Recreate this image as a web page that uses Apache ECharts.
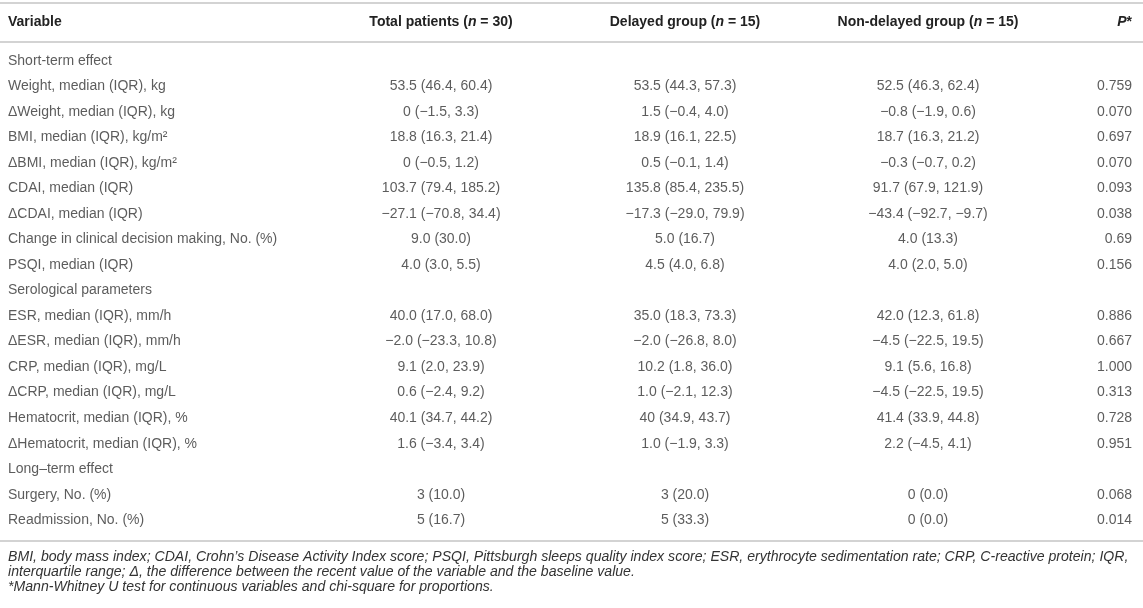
<!DOCTYPE html>
<html lang="en">
<head>
    <meta charset="UTF-8">
    <title>Short- and long-term effect table</title>
    <script src="https://cdn.jsdelivr.net/npm/echarts@6/dist/echarts.min.js"></script>
    <style>
        html, body { margin: 0; padding: 0; background: #fff; }
        #table-chart { width: 1143px; height: 608px; }
    </style>
</head>
<body>
    <div id="table-chart"></div>

    <script>
        // Row labels (first column)
        var variables = [
            'Short-term effect',
            'Weight, median (IQR), kg',
            'ΔWeight, median (IQR), kg',
            'BMI, median (IQR), kg/m²',
            'ΔBMI, median (IQR), kg/m²',
            'CDAI, median (IQR)',
            'ΔCDAI, median (IQR)',
            'Change in clinical decision making, No. (%)',
            'PSQI, median (IQR)',
            'Serological parameters',
            'ESR, median (IQR), mm/h',
            'ΔESR, median (IQR), mm/h',
            'CRP, median (IQR), mg/L',
            'ΔCRP, median (IQR), mg/L',
            'Hematocrit, median (IQR), %',
            'ΔHematocrit, median (IQR), %',
            'Long–term effect',
            'Surgery, No. (%)',
            'Readmission, No. (%)'
        ];

        var totalPatients = [
            '', '53.5 (46.4, 60.4)', '0 (−1.5, 3.3)', '18.8 (16.3, 21.4)', '0 (−0.5, 1.2)',
            '103.7 (79.4, 185.2)', '−27.1 (−70.8, 34.4)', '9.0 (30.0)', '4.0 (3.0, 5.5)',
            '', '40.0 (17.0, 68.0)', '−2.0 (−23.3, 10.8)', '9.1 (2.0, 23.9)', '0.6 (−2.4, 9.2)',
            '40.1 (34.7, 44.2)', '1.6 (−3.4, 3.4)', '', '3 (10.0)', '5 (16.7)'
        ];

        var delayedGroup = [
            '', '53.5 (44.3, 57.3)', '1.5 (−0.4, 4.0)', '18.9 (16.1, 22.5)', '0.5 (−0.1, 1.4)',
            '135.8 (85.4, 235.5)', '−17.3 (−29.0, 79.9)', '5.0 (16.7)', '4.5 (4.0, 6.8)',
            '', '35.0 (18.3, 73.3)', '−2.0 (−26.8, 8.0)', '10.2 (1.8, 36.0)', '1.0 (−2.1, 12.3)',
            '40 (34.9, 43.7)', '1.0 (−1.9, 3.3)', '', '3 (20.0)', '5 (33.3)'
        ];

        var nonDelayedGroup = [
            '', '52.5 (46.3, 62.4)', '−0.8 (−1.9, 0.6)', '18.7 (16.3, 21.2)', '−0.3 (−0.7, 0.2)',
            '91.7 (67.9, 121.9)', '−43.4 (−92.7, −9.7)', '4.0 (13.3)', '4.0 (2.0, 5.0)',
            '', '42.0 (12.3, 61.8)', '−4.5 (−22.5, 19.5)', '9.1 (5.6, 16.8)', '−4.5 (−22.5, 19.5)',
            '41.4 (33.9, 44.8)', '2.2 (−4.5, 4.1)', '', '0 (0.0)', '0 (0.0)'
        ];

        var pValues = [
            '', '0.759', '0.070', '0.697', '0.070', '0.093', '0.038', '0.69', '0.156',
            '', '0.886', '0.667', '1.000', '0.313', '0.728', '0.951', '', '0.068', '0.014'
        ];

        // Header cells ({i|...} = italic)
        var headers = [
            'Variable',
            'Total patients ({i|n} = 30)',
            'Delayed group ({i|n} = 15)',
            'Non-delayed group ({i|n} = 15)',
            '{i|P}*'
        ];

        var footnotes = [
            'BMI, body mass index; CDAI, Crohn\u2019s Disease Activity Index score; PSQI, Pittsburgh sleeps quality index score; ESR, erythrocyte sedimentation rate; CRP, C-reactive protein; IQR,',
            'interquartile range; Δ, the difference between the recent value of the variable and the baseline value.',
            '*Mann-Whitney U test for continuous variables and chi-square for proportions.'
        ];

        // Layout of the columns (x anchor in pixels on the hidden value axis)
        var columns = [
            { values: variables,       x: 8,    align: 'left' },
            { values: totalPatients,   x: 441,  align: 'center' },
            { values: delayedGroup,    x: 685,  align: 'center' },
            { values: nonDelayedGroup, x: 928,  align: 'center' },
            { values: pValues,         x: 1132, align: 'right' }
        ];

        var FONT = '"Liberation Sans", Arial, Helvetica, sans-serif';
        var W = 1143;

        var chart = echarts.init(document.getElementById('table-chart'), null, { renderer: 'canvas' });

        var series = columns.map(function (col) {
            return {
                type: 'scatter',
                symbolSize: 1,
                itemStyle: { color: 'rgba(0,0,0,0)' },
                silent: true,
                data: col.values.map(function (v, i) { return [col.x, i, v]; }),
                label: {
                    show: true,
                    position: 'inside',
                    align: col.align,
                    verticalAlign: 'middle',
                    formatter: function (p) { return p.data[2]; },
                    color: '#333',
                    fontFamily: FONT,
                    fontSize: 14
                }
            };
        });

        function rule(y) {
            return {
                type: 'line',
                shape: { x1: 0, y1: y, x2: W, y2: y },
                style: { stroke: '#a8a8a8', lineWidth: 1.2 }
            };
        }

        var graphics = [rule(3), rule(42), rule(541)];

        headers.forEach(function (h, i) {
            graphics.push({
                type: 'text',
                x: columns[i].x,
                y: 22,
                style: {
                    text: h,
                    align: columns[i].align,
                    verticalAlign: 'middle',
                    fill: '#222',
                    fontFamily: FONT,
                    fontSize: 14,
                    fontWeight: 'bold',
                    rich: {
                        i: { fontStyle: 'italic', fontWeight: 'bold', fontFamily: FONT, fontSize: 14, fill: '#222' }
                    }
                }
            });
        });

        footnotes.forEach(function (t, i) {
            graphics.push({
                type: 'text',
                x: 8,
                y: 557 + i * 15,
                style: {
                    text: t,
                    align: 'left',
                    verticalAlign: 'middle',
                    fill: '#333',
                    fontFamily: FONT,
                    fontSize: 14.1,
                    fontStyle: 'italic'
                }
            });
        });

        chart.setOption({
            animation: false,
            grid: { left: 0, right: 0, top: 48, height: 485 },
            xAxis: { type: 'value', min: 0, max: W, show: false },
            yAxis: {
                type: 'category',
                inverse: true,
                data: variables.map(function (v, i) { return i; }),
                show: false
            },
            series: series,
            graphic: graphics
        });
    </script>
</body>
</html>
